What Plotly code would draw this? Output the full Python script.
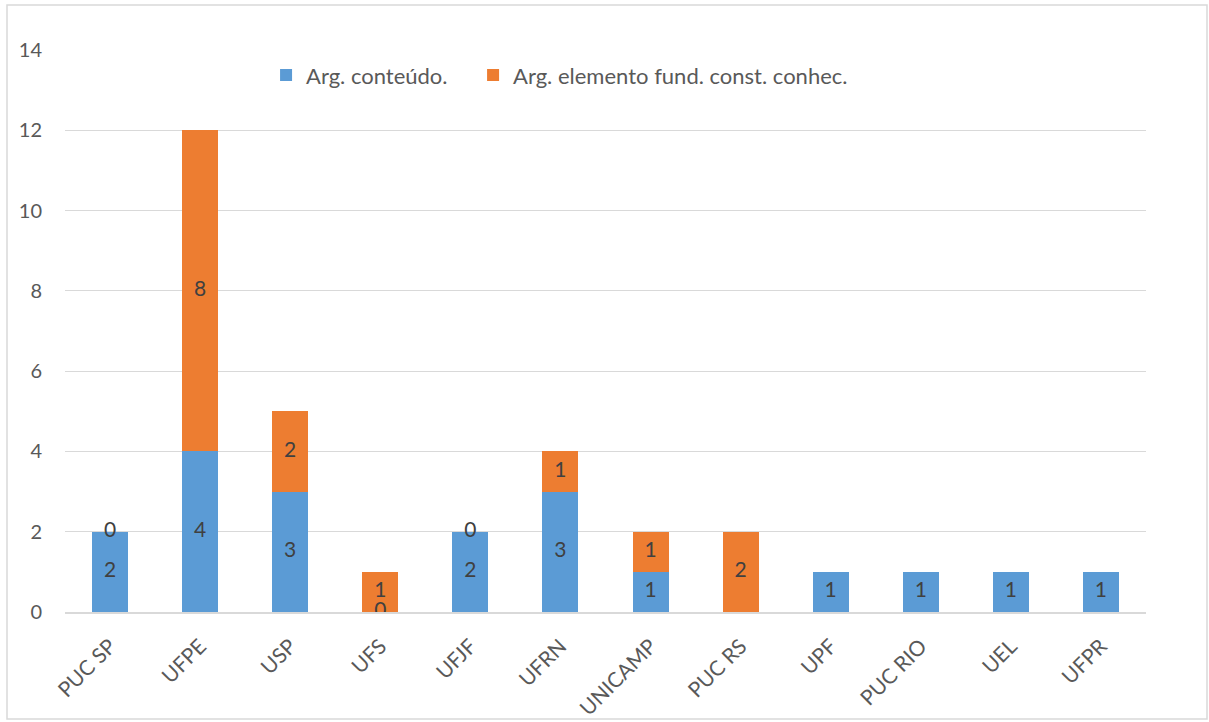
import plotly.graph_objects as go

categories = ["PUC SP", "UFPE", "USP", "UFS", "UFJF", "UFRN", "UNICAMP", "PUC RS", "UPF", "PUC RIO", "UEL", "UFPR"]
conteudo = [2, 4, 3, 0, 2, 3, 1, None, 1, 1, 1, 1]
elemento = [0, 8, 2, 1, 0, 1, 1, 2, None, None, None, None]

BLUE = "#5b9bd5"
ORANGE = "#ed7d31"
FONT = "Lato, 'Open Sans', sans-serif"

fig = go.Figure()
fig.add_trace(go.Bar(x=categories, y=[v if v is not None else 0 for v in conteudo],
                     name="Arg. conteúdo.", legend="legend",
                     marker=dict(color=BLUE, line=dict(width=0))))
fig.add_trace(go.Bar(x=categories, y=[v if v is not None else 0 for v in elemento],
                     name="Arg. elemento fund. const. conhec.", legend="legend2",
                     marker=dict(color=ORANGE, line=dict(width=0))))

# data labels
lx, ly, lt = [], [], []
for c, b, o in zip(categories, conteudo, elemento):
    base = b if b is not None else 0
    if b is not None:
        lx.append(c); ly.append(b / 2); lt.append(str(b))
    if o is not None:
        lx.append(c); ly.append(base + o / 2); lt.append(str(o))
fig.add_trace(go.Scatter(x=lx, y=ly, text=lt, mode="text", showlegend=False,
                         textfont=dict(size=21, color="#404040", family=FONT), hoverinfo="skip"))

legend_common = dict(orientation="h", y=0.955, xanchor="left", yanchor="middle",
                     font=dict(size=22, color="#595959"), itemwidth=30,
                     bgcolor="rgba(0,0,0,0)")

fig.update_layout(
    width=1209, height=722,
    margin=dict(l=65, r=63, t=50, b=110),
    barmode="stack", bargap=0.6,
    plot_bgcolor="white", paper_bgcolor="white",
    font=dict(family=FONT, color="#595959", size=21),
    legend=dict(x=0.186, **legend_common),
    legend2=dict(x=0.3775, **legend_common),
    xaxis=dict(range=[-0.5, 11.5], tickangle=-45, showgrid=False, showline=True,
               linecolor="#d9d9d9", linewidth=1.5, ticklabelstandoff=12, automargin=False,
               ticks="", tickfont=dict(size=21, color="#595959")),
    yaxis=dict(range=[0, 14], dtick=2, showgrid=True, gridcolor="#d9d9d9", gridwidth=1,
               zeroline=False, ticks="", tickfont=dict(size=20, color="#595959"),
               ticklabelstandoff=22, automargin=False),
    shapes=[dict(type="rect", xref="paper", yref="paper",
                 x0=(7 - 65) / 1081, x1=(1207 - 65) / 1081,
                 y0=(612 - 719) / 562, y1=(612 - 5) / 562,
                 line=dict(color="#d9d9d9", width=1.5), fillcolor="rgba(0,0,0,0)", layer="below")],
)

fig.write_html("out.html")
